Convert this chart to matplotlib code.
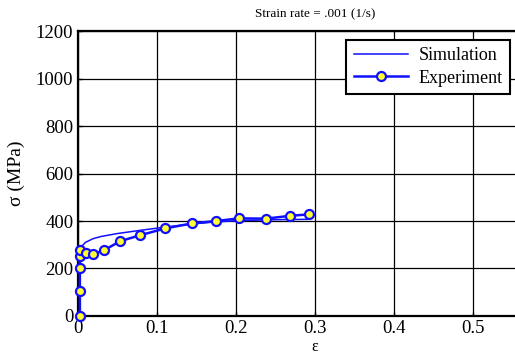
import matplotlib
matplotlib.use('Agg')
import matplotlib.pyplot as plt

plt.rcParams['font.family'] = ['Liberation Serif', 'DejaVu Serif']

# Simulation curve
simStrain = [0, 0.003, 0.003, 0.005, 0.01, 0.02, 0.03, 0.05, 0.08, 0.11, 0.14, 0.17, 0.2, 0.23, 0.26, 0.29]
simStress = [0, 0, 262, 292, 310, 326, 335, 347, 361, 374, 386, 395, 401, 404, 406, 407]

# Experiment points
expStrain = [0.003, 0.003, 0.003, 0.003, 0.003, 0.0105, 0.0197, 0.0336, 0.0538, 0.079, 0.111,
             0.145, 0.175, 0.204, 0.238, 0.269, 0.293]
expStress = [0, 105, 200, 252, 277, 267, 260, 277, 315, 340, 369, 390, 400, 411, 410, 422, 428]

xTicks = [0, 0.1, 0.2, 0.3, 0.4, 0.5]
xTickLabels = ['0', '0.1', '0.2', '0.3', '0.4', '0.5']
yTicks = [0, 200, 400, 600, 800, 1000, 1200]

fig = plt.figure(figsize=(5.15, 3.63), dpi=100)
ax = fig.add_axes([0.1505, 0.1295, 0.9223, 0.785])

ax.plot(simStrain, simStress, color='#1010ff', lw=1.1, label='Simulation', clip_on=False, zorder=3)
ax.plot(expStrain, expStress, color='#1010ff', lw=1.8, marker='o', ms=6.5,
        mfc='#ffff33', mec='#1010ff', mew=1.6, label='Experiment', clip_on=False, zorder=4)

ax.set_xlim(0, 0.6)
ax.set_ylim(0, 1200)
ax.set_xticks(xTicks)
ax.set_xticklabels(xTickLabels)
ax.set_yticks(yTicks)
ax.grid(True, color='black', lw=0.9)
ax.tick_params(direction='in', length=3, labelsize=13.5, width=1, pad=3)
for s in ax.spines.values():
    s.set_linewidth(1.6)

ax.set_title('Strain rate = .001 (1/s)', fontsize=9.5, pad=10)
ax.set_xlabel('ε', fontsize=11.5, labelpad=1)
ax.set_ylabel('σ (MPa)', fontsize=14, labelpad=8)

leg = fig.legend(loc='upper right', bbox_to_anchor=(0.99, 0.89), fontsize=13,
                 frameon=True, fancybox=False, edgecolor='black', framealpha=1,
                 handlelength=3.0, borderpad=0.4, labelspacing=0.3, handletextpad=0.6,
                 borderaxespad=0)
leg.get_frame().set_linewidth(1.5)

plt.savefig('out.png', dpi=100)
